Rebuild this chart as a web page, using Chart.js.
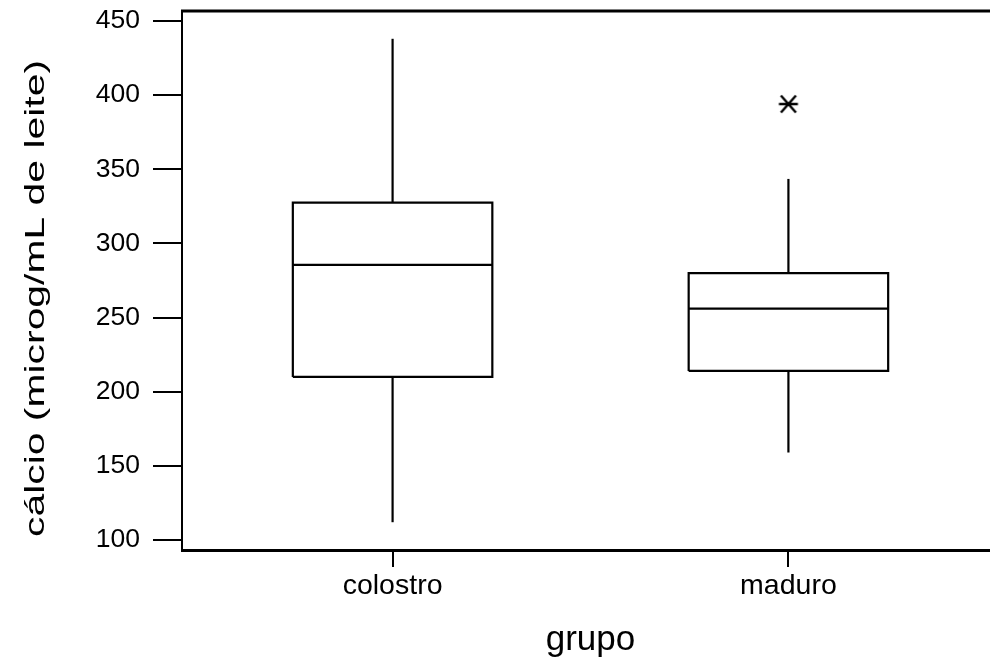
<!DOCTYPE html>
<html>
<head>
<meta charset="utf-8">
<script src="https://cdn.jsdelivr.net/npm/chart.js@4.4.1/dist/chart.umd.min.js"></script>
<style>
  html, body { margin: 0; padding: 0; background: #ffffff; overflow: hidden; width: 990px; height: 661px; }
  #wrap { width: 1010px; height: 661px; }
</style>
</head>
<body>
<div id="wrap"><canvas id="c" width="1010" height="661"></canvas></div>
<script>
// ---- data ----
const CATEGORIES = ['colostro', 'maduro'];
const MINS    = [112, 159];
const Q1S     = [210, 214];
const MEDIANS = [285.5, 256];
const Q3S     = [327.5, 280];
const MAXS    = [438, 343.5];
const OUTLIERS = [[], [394]];
const Y_TICKS = [100, 150, 200, 250, 300, 350, 400, 450];
const Y_TITLE = 'cálcio (microg/mL de leite)';
const X_TITLE = 'grupo';

// ---- styles ----
const FONT = "'Liberation Sans', Arial, Helvetica, sans-serif";
const HALF = 0.252;          // half box width in category units
const LW = 2.2;

function boxDatasets(i) {
  const x = i + 1;
  const base = { type: 'scatter', showLine: true, borderColor: '#000', borderWidth: LW,
                 pointRadius: 0, pointHoverRadius: 0, fill: false, tension: 0 };
  return [
    Object.assign({}, base, { data: [
      {x: x - HALF, y: Q1S[i]}, {x: x + HALF, y: Q1S[i]}, {x: x + HALF, y: Q3S[i]},
      {x: x - HALF, y: Q3S[i]}, {x: x - HALF, y: Q1S[i]} ] }),
    Object.assign({}, base, { data: [ {x: x - HALF, y: MEDIANS[i]}, {x: x + HALF, y: MEDIANS[i]} ] }),
    Object.assign({}, base, { data: [ {x: x, y: Q3S[i]}, {x: x, y: MAXS[i]} ] }),
    Object.assign({}, base, { data: [ {x: x, y: MINS[i]}, {x: x, y: Q1S[i]} ] })
  ];
}

// asterisk marker (horizontal + two diagonals)
function makeAsterisk() {
  const c = document.createElement('canvas');
  c.width = 22; c.height = 22;
  const g = c.getContext('2d');
  g.strokeStyle = '#000'; g.lineWidth = 2.4; g.lineCap = 'butt';
  g.beginPath();
  g.moveTo(1.5, 11); g.lineTo(20.5, 11);
  g.moveTo(3.5, 2.5); g.lineTo(18.5, 19.5);
  g.moveTo(18.5, 2.5); g.lineTo(3.5, 19.5);
  g.stroke();
  return c;
}

const datasets = [];
CATEGORIES.forEach((_, i) => { datasets.push(...boxDatasets(i)); });
datasets.push({
  type: 'scatter',
  data: OUTLIERS.flatMap((arr, i) => arr.map(v => ({x: i + 1, y: v}))),
  pointStyle: makeAsterisk(),
  pointRadius: 10, pointHoverRadius: 10,
  showLine: false
});

const framePlugin = {
  id: 'frame',
  afterDatasetsDraw(chart) {
    const {ctx, chartArea: a} = chart;
    ctx.save();
    ctx.strokeStyle = '#000';
    ctx.lineWidth = 3;
    ctx.beginPath();
    ctx.moveTo(a.left - 1, a.top);
    ctx.lineTo(a.right, a.top);
    ctx.lineTo(a.right, a.bottom);
    ctx.stroke();
    ctx.restore();
  },
  afterDraw(chart) {
    const {ctx, chartArea: a} = chart;
    ctx.save();
    ctx.fillStyle = '#000';
    ctx.font = "28px " + FONT;
    ctx.textAlign = 'center';
    ctx.textBaseline = 'alphabetic';
    ctx.translate(44, (a.top + a.bottom) / 2 + 18);
    ctx.rotate(-Math.PI / 2);
    ctx.scale(1.46, 1);
    ctx.fillText(Y_TITLE, 0, 0);
    ctx.restore();
  }
};

new Chart(document.getElementById('c'), {
  type: 'scatter',
  data: { datasets },
  options: {
    responsive: false,
    animation: false,
    devicePixelRatio: 1,
    layout: { padding: { top: 11, right: 5, left: 0, bottom: 0 } },
    plugins: { legend: { display: false }, tooltip: { enabled: false } },
    scales: {
      x: {
        type: 'linear',
        min: 0.468, max: 2.532,
        afterBuildTicks(scale) { scale.ticks = CATEGORIES.map((_, i) => ({ value: i + 1 })); },
        afterFit(scale) { scale.height = 111; scale.paddingLeft = 0; scale.paddingRight = 0; },
        ticks: {
          autoSkip: false, maxRotation: 0, minRotation: 0,
          color: '#000', padding: 2,
          font: { family: FONT, size: 28.5 },
          callback: (v) => CATEGORIES[Math.round(v) - 1] || ''
        },
        grid: { display: true, drawOnChartArea: false, drawTicks: true, tickLength: 17,
                color: '#000', lineWidth: 2 },
        border: { display: true, color: '#000', width: 3 },
        title: { display: true, text: X_TITLE, color: '#000',
                 font: { family: FONT, size: 35 }, padding: { top: 0, bottom: 0 } }
      },
      y: {
        type: 'linear',
        min: 93.26, max: 456.74,
        afterBuildTicks(scale) { scale.ticks = Y_TICKS.map(v => ({ value: v })); },
        afterFit(scale) { scale.width = 182; scale.paddingTop = 0; scale.paddingBottom = 0; },
        ticks: { color: '#000', padding: 13, font: { family: FONT, size: 26.5 } },
        grid: { display: true, drawOnChartArea: false, drawTicks: true, tickLength: 29,
                color: '#000', lineWidth: 2 },
        border: { display: true, color: '#000', width: 2 }
      }
    }
  },
  plugins: [framePlugin]
});
</script>
</body>
</html>
